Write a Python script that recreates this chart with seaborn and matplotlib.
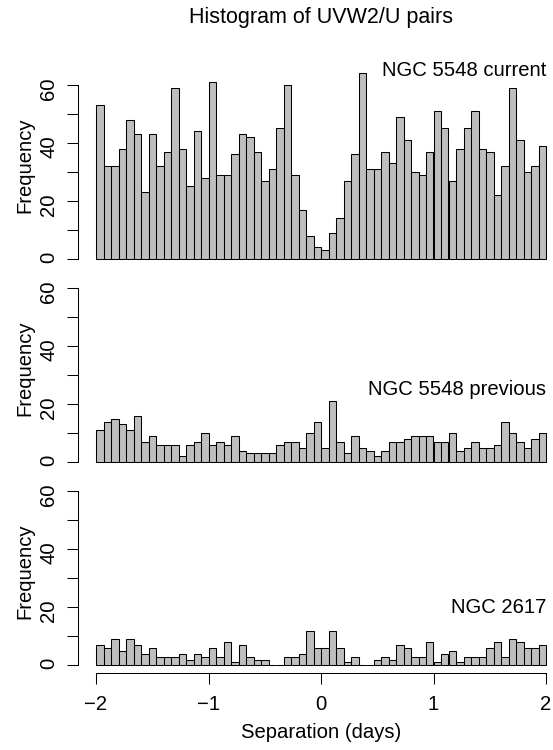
import numpy as np
import pandas as pd
import matplotlib
matplotlib.use("Agg")
import matplotlib.pyplot as plt
import seaborn as sns

# bin counts (60 bins from -2 to 2 days)
bin_lo, bin_hi, n_bins = -2.0, 2.0, 60

ngc5548_current = [53, 32, 32, 38, 48, 43, 23, 43, 32, 37,
                   59, 38, 25, 44, 28, 61, 29, 29, 36, 43,
                   42, 37, 27, 31, 45, 60, 29, 17, 8, 4,
                   3, 9, 14, 27, 36, 64, 31, 31, 37, 33,
                   49, 41, 30, 29, 37, 51, 45, 27, 38, 45,
                   51, 38, 37, 22, 32, 59, 41, 30, 32, 39]

ngc5548_previous = [11, 14, 15, 13, 11, 16, 7, 9, 6, 6,
                    6, 2, 6, 7, 10, 6, 7, 6, 9, 4,
                    3, 3, 3, 3, 6, 7, 7, 5, 10, 14,
                    5, 21, 7, 3, 9, 5, 4, 2, 4, 7,
                    7, 8, 9, 9, 9, 7, 7, 10, 4, 5,
                    7, 5, 5, 6, 14, 10, 7, 5, 8, 10]

ngc2617 = [7, 6, 9, 5, 9, 7, 4, 6, 3, 3,
           3, 4, 2, 4, 3, 6, 3, 8, 1, 7,
           3, 2, 2, 0, 0, 3, 3, 4, 12, 6,
           6, 12, 6, 1, 3, 0, 0, 2, 3, 2,
           7, 6, 3, 3, 8, 1, 4, 5, 1, 3,
           3, 3, 6, 8, 3, 9, 8, 6, 6, 7]

panel_names = ["NGC 5548 current", "NGC 5548 previous", "NGC 2617"]
panel_label_y = [65, 25, 20]
ytick_vals = [0, 10, 20, 30, 40, 50, 60]
ytick_labels = ["0", "", "20", "", "40", "", "60"]
xtick_vals = [-2, -1, 0, 1, 2]
xtick_labels = ["\u22122", "\u22121", "0", "1", "2"]

sns.set_style("white")
plt.rcParams["font.family"] = ["Liberation Sans", "DejaVu Sans"]

W, H = 553, 750
fig = plt.figure(figsize=(W / 100, H / 100), dpi=100)

edges = np.linspace(bin_lo, bin_hi, n_bins + 1)
centers = (edges[:-1] + edges[1:]) / 2

fs = 14.6
panel_h = 203.2
tops = [63.35, 266.55, 469.75]

for i, counts in enumerate([ngc5548_current, ngc5548_previous, ngc2617]):
    ax = fig.add_axes([78 / W, 1 - (tops[i] + panel_h) / H, 486 / W, panel_h / H])
    df = pd.DataFrame({"sep": centers, "n": counts})
    sns.histplot(data=df, x="sep", weights="n", bins=edges.tolist(),
                 color="#BEBEBE", edgecolor="black", linewidth=0.75,
                 alpha=1, ax=ax)
    ax.set_xlim(-2.16, 2.16)
    ax.set_ylim(-2.6, 67.35)

    for s in ["top", "right"]:
        ax.spines[s].set_visible(False)
    ax.spines["left"].set_bounds(0, 60)
    ax.spines["left"].set_linewidth(0.75)
    ax.spines["left"].set_color("black")

    ax.set_yticks(ytick_vals)
    ax.set_yticklabels(ytick_labels)
    ax.tick_params(axis="y", left=True, direction="out", length=8.2,
                   width=0.75, labelsize=fs, labelrotation=90, pad=6,
                   colors="black")

    ax.set_ylabel("Frequency", fontsize=fs, color="black")
    ax.yaxis.set_label_coords(-0.09, 0.5)

    ax.text(2.0, panel_label_y[i], panel_names[i], ha="right", va="center",
            fontsize=fs, color="black")

    if i == 2:
        ax.spines["bottom"].set_bounds(-2, 2)
        ax.spines["bottom"].set_linewidth(0.75)
        ax.spines["bottom"].set_color("black")
        ax.set_xticks(xtick_vals)
        ax.set_xticklabels(xtick_labels)
        ax.tick_params(axis="x", bottom=True, direction="out", length=8.2,
                       width=0.75, labelsize=fs, pad=8, colors="black")
        ax.set_xlabel("Separation (days)", fontsize=fs, color="black")
        ax.xaxis.set_label_coords(0.5, -0.248)
    else:
        ax.spines["bottom"].set_visible(False)
        ax.set_xticks([])
        ax.set_xlabel("")

fig.text(321 / W, 1 - 17.6 / H, "Histogram of UVW2/U pairs", ha="center",
         va="center", fontsize=15.5, color="black")

fig.savefig("out.png", dpi=100)
